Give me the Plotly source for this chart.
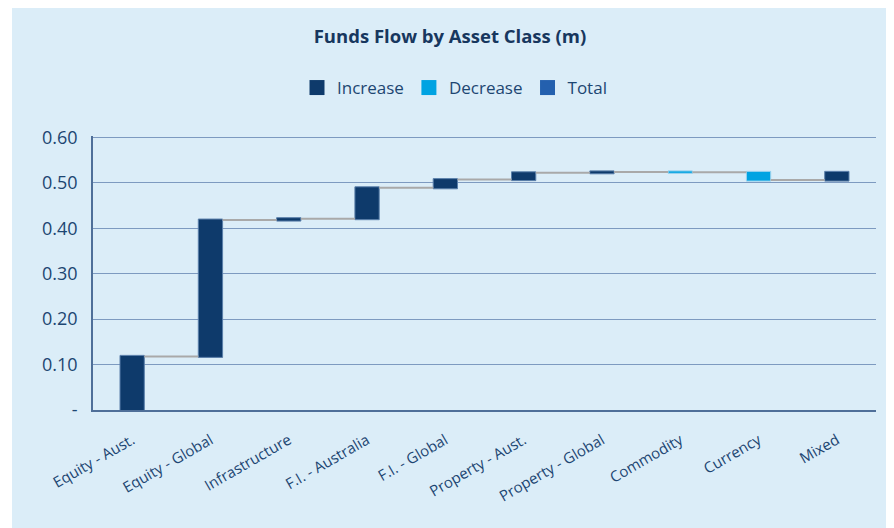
import plotly.graph_objects as go

categories = ["Equity - Aust.", "Equity - Global", "Infrastructure", "F.I. - Australia",
              "F.I. - Global", "Property - Aust.", "Property - Global", "Commodity",
              "Currency", "Mixed"]
flows = [0.118, 0.300, 0.003, 0.068, 0.018, 0.015, 0.002, -0.001, -0.017, 0.017]
ytick_vals = [0, 0.1, 0.2, 0.3, 0.4, 0.5, 0.6]
ytick_text = ["-", "0.10", "0.20", "0.30", "0.40", "0.50", "0.60"]
legend_names = ["Increase", "Decrease", "Total"]

C_INC = "#0E3A6B"
C_DEC = "#00A3E2"
C_TOT = "#2460AE"
TXT = "#1D4672"
FONT = "Open Sans"

fig = go.Figure()
fig.add_trace(go.Waterfall(
    x=categories, y=flows, measure=["relative"] * len(flows),
    increasing=dict(marker=dict(color=C_INC, line=dict(color="#5A7FAA", width=1))),
    decreasing=dict(marker=dict(color=C_DEC, line=dict(color="#9CD3EE", width=1))),
    totals=dict(marker=dict(color=C_TOT)),
    connector=dict(line=dict(color="#A9A9A9", width=2)),
    width=0.31, showlegend=False, hoverinfo="x+y",
))
for name, col in zip(legend_names, [C_INC, C_DEC, C_TOT]):
    fig.add_trace(go.Scatter(x=[None], y=[None], mode="markers", name=name,
                             marker=dict(symbol="square", size=15, color=col)))

fig.update_layout(
    width=894, height=528,
    margin=dict(l=85, r=26, t=128, b=126),
    paper_bgcolor="white", plot_bgcolor="rgba(0,0,0,0)",
    font=dict(family=FONT, color=TXT),
    title=dict(text="<b>Funds Flow by Asset Class (m)</b>", x=442 / 894,
               xanchor="center", xref="container",
               y=1 - 29 / 528, yanchor="middle", font=dict(size=18.5, color="#17375E")),
    legend=dict(orientation="h", x=(297 - 93) / 783, xanchor="left", y=(410 - 88) / 274,
                yanchor="middle", font=dict(size=17, color=TXT), bgcolor="rgba(0,0,0,0)",
                itemwidth=30, tracegroupgap=0),
    shapes=[dict(type="rect", xref="paper", yref="paper", layer="below",
                 x0=-81 / 783, x1=797 / 783, y0=-126 / 274, y1=404 / 274,
                 fillcolor="#DBEDF8", line=dict(width=0))],
    xaxis=dict(tickangle=-30, tickfont=dict(size=15, color=TXT), showline=True,
               linecolor="#4F6F99", linewidth=1.5, showgrid=False, ticks="",
               ticklabelstandoff=14),
    yaxis=dict(range=[0, 0.603], tickvals=ytick_vals, ticktext=ytick_text,
               tickfont=dict(size=18, color=TXT), showline=True, linecolor="#4F6F99",
               linewidth=1.5, gridcolor="#7D9AC0", gridwidth=1.3, zeroline=False,
               ticks="", ticklen=0, ticklabelstandoff=10),
    hovermode=False,
)
fig.write_html("out.html")
